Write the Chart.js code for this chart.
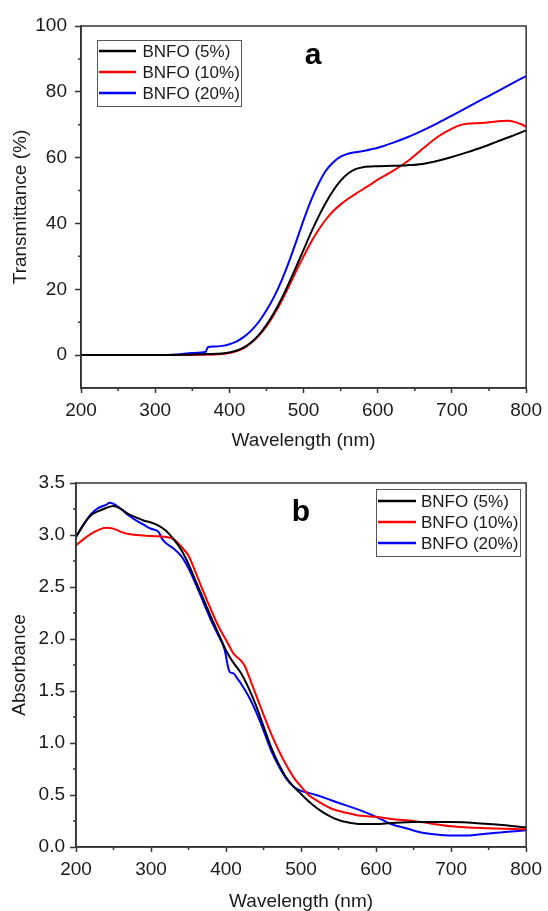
<!DOCTYPE html>
<html>
<head>
<meta charset="utf-8">
<script src="https://cdn.jsdelivr.net/npm/chart.js@4.4.1/dist/chart.umd.min.js"></script>
<style>
  body { margin: 0; background: #fff; }
  .panel { position: absolute; left: 0; }
</style>
</head>
<body>
<div class="panel" style="top:0"><canvas id="chartA" width="548" height="455"></canvas></div>
<div class="panel" style="top:455px"><canvas id="chartB" width="548" height="456"></canvas></div>
<script>
// ---- panel a : transmittance ----
const labels = ['BNFO (5%)', 'BNFO (10%)', 'BNFO (20%)'];
const colors = ['#000000', '#ff0000', '#0000ff'];

const wlA5 = [200, 300, 340, 370, 390, 400, 410, 420, 430, 440, 450, 460, 470, 480, 490, 500, 510, 520, 530, 540, 550, 560, 570, 580, 600, 620, 640, 660, 680, 700, 720, 740, 760, 780, 800];
const tA5 = [0, 0, 0.1, 0.3, 0.5, 0.8, 1.4, 2.4, 4, 6.2, 9.2, 12.8, 17, 21.8, 26.8, 32, 37.2, 42, 46.3, 50, 53, 55.2, 56.5, 57.1, 57.4, 57.5, 57.7, 58.1, 59, 60.2, 61.6, 63.1, 64.8, 66.5, 68.3];

const wlA10 = [200, 300, 360, 390, 400, 410, 420, 430, 440, 450, 460, 470, 480, 490, 500, 510, 520, 530, 540, 550, 560, 570, 580, 590, 600, 620, 640, 660, 680, 700, 710, 720, 740, 760, 775, 785, 795, 800];
const tA10 = [0, 0, 0.1, 0.3, 0.6, 1.2, 2.2, 3.8, 6, 8.8, 12.3, 16.3, 20.8, 25.5, 30, 34.3, 38, 41.2, 43.8, 45.8, 47.5, 49, 50.4, 51.8, 53.3, 55.9, 58.9, 62.6, 66.2, 68.8, 69.8, 70.3, 70.5, 71, 71.2, 70.8, 70, 69.3];

const wlA20 = [200, 300, 330, 350, 368, 371, 380, 390, 400, 410, 420, 430, 440, 450, 460, 470, 480, 490, 500, 510, 520, 530, 540, 550, 560, 580, 600, 620, 640, 660, 680, 700, 720, 740, 760, 780, 800];
const tA20 = [0, 0, 0.2, 0.6, 1.0, 2.4, 2.6, 2.8, 3.3, 4.2, 5.6, 7.6, 10.2, 13.6, 17.6, 22.5, 28.2, 34.5, 41, 47, 52, 56, 58.6, 60.3, 61.2, 62, 63, 64.5, 66.2, 68.2, 70.4, 72.8, 75.2, 77.6, 80, 82.4, 84.8];

const xTicks = [200, 300, 400, 500, 600, 700, 800];
const xMinor = [250, 350, 450, 550, 650, 750];
const yTicksA = [0, 20, 40, 60, 80, 100];
const yMinorA = [10, 30, 50, 70, 90];

// ---- panel b : absorbance ----
const wlB5 = [200, 210, 220, 230, 240, 250, 260, 270, 280, 290, 300, 310, 320, 330, 340, 350, 360, 370, 380, 390, 400, 410, 420, 430, 440, 450, 460, 470, 480, 490, 500, 510, 520, 530, 540, 550, 560, 580, 600, 620, 650, 700, 750, 800];
const aB5 = [2.98, 3.1, 3.19, 3.23, 3.26, 3.28, 3.25, 3.2, 3.17, 3.14, 3.12, 3.09, 3.04, 2.96, 2.86, 2.72, 2.55, 2.38, 2.21, 2.05, 1.89, 1.77, 1.67, 1.53, 1.36, 1.16, 0.96, 0.8, 0.67, 0.58, 0.51, 0.44, 0.38, 0.33, 0.29, 0.26, 0.24, 0.22, 0.22, 0.23, 0.24, 0.24, 0.22, 0.19];

const wlB10 = [200, 210, 220, 230, 240, 250, 260, 270, 280, 300, 320, 330, 340, 350, 360, 370, 380, 390, 400, 410, 420, 425, 430, 440, 450, 460, 470, 480, 490, 500, 510, 520, 540, 560, 580, 600, 620, 650, 700, 750, 800];
const aB10 = [2.9, 2.96, 3.01, 3.05, 3.07, 3.06, 3.03, 3.01, 3.0, 2.99, 2.98, 2.96, 2.89, 2.8, 2.63, 2.45, 2.28, 2.12, 1.99, 1.86, 1.79, 1.74, 1.65, 1.46, 1.27, 1.09, 0.93, 0.79, 0.67, 0.58, 0.5, 0.45, 0.37, 0.33, 0.3, 0.29, 0.27, 0.25, 0.2, 0.18, 0.17];

const wlB20 = [200, 210, 220, 230, 240, 245, 250, 260, 270, 280, 290, 300, 310, 315, 320, 330, 340, 350, 360, 370, 380, 390, 398, 403, 405, 410, 415, 420, 430, 440, 450, 460, 470, 480, 490, 500, 510, 520, 540, 560, 580, 600, 620, 640, 660, 680, 700, 720, 750, 780, 800];
const aB20 = [2.98, 3.1, 3.2, 3.26, 3.29, 3.31, 3.3, 3.25, 3.19, 3.14, 3.1, 3.06, 3.03, 2.96, 2.92, 2.87, 2.8, 2.68, 2.52, 2.35, 2.18, 2.03, 1.9, 1.72, 1.68, 1.67, 1.62, 1.57, 1.45, 1.3, 1.12, 0.93, 0.78, 0.66, 0.58, 0.54, 0.52, 0.5, 0.45, 0.4, 0.35, 0.29, 0.22, 0.18, 0.14, 0.12, 0.11, 0.11, 0.13, 0.15, 0.16];

const yTicksB = [0, 0.5, 1.0, 1.5, 2.0, 2.5, 3.0, 3.5];
const yMinorB = [0.25, 0.75, 1.25, 1.75, 2.25, 2.75, 3.25];

const FONT = 'Arial, "Liberation Sans", sans-serif';
const INK = '#1a1a1a';
const FRAME = '#333333';

function pts(xs, ys) {
    return xs.map((x, i) => ({x: x, y: ys[i]}));
}

function makeDatasets(series) {
    return series.map((s, i) => ({
        label: labels[i],
        data: pts(s[0], s[1]),
        borderColor: colors[i],
        backgroundColor: colors[i],
        borderWidth: 2,
        pointRadius: 0,
        fill: false,
        cubicInterpolationMode: 'monotone'
    }));
}

// minor ticks + top/right frame
const frameTicks = {
    id: 'frameTicks',
    afterDraw(chart, args, opts) {
        const {ctx, chartArea: a} = chart;
        const x = chart.scales.x, y = chart.scales.y;
        ctx.save();
        ctx.strokeStyle = FRAME;
        ctx.lineWidth = 1.5;
        ctx.beginPath();
        opts.x.forEach(v => {
            const px = x.getPixelForValue(v);
            ctx.moveTo(px, a.bottom);
            ctx.lineTo(px, a.bottom + 3);
        });
        opts.y.forEach(v => {
            const py = y.getPixelForValue(v);
            ctx.moveTo(a.left, py);
            ctx.lineTo(a.left - 3, py);
        });
        ctx.stroke();
        ctx.strokeRect(a.left, a.top, a.right - a.left, a.bottom - a.top);
        ctx.restore();
    }
};

// legend box inside the plot + panel letter
const boxLegend = {
    id: 'boxLegend',
    afterDraw(chart, args, o) {
        const ctx = chart.ctx;
        ctx.save();
        ctx.strokeStyle = '#555';
        ctx.lineWidth = 1;
        ctx.strokeRect(o.x + 0.5, o.y + 0.5, o.w, o.h);
        ctx.font = '17px ' + FONT;
        ctx.textBaseline = 'middle';
        ctx.textAlign = 'left';
        chart.data.datasets.forEach((ds, i) => {
            const yy = o.y + o.first + i * o.gap;
            ctx.strokeStyle = ds.borderColor;
            ctx.lineWidth = 2.5;
            ctx.beginPath();
            ctx.moveTo(o.x + 2, yy);
            ctx.lineTo(o.x + 2 + o.lineLen, yy);
            ctx.stroke();
            ctx.fillStyle = INK;
            ctx.fillText(ds.label, o.x + o.textX, yy + 1);
        });
        ctx.font = 'bold 30px ' + FONT;
        ctx.textAlign = 'center';
        ctx.fillStyle = '#000';
        ctx.fillText(o.letter, o.lx, o.ly);
        ctx.restore();
    }
};

function makeChart(id, datasets, cfg) {
    const ctx = document.getElementById(id).getContext('2d');
    return new Chart(ctx, {
        type: 'line',
        data: {datasets: datasets},
        plugins: [frameTicks, boxLegend],
        options: {
            responsive: false,
            animation: false,
            devicePixelRatio: 1,
            layout: {padding: {top: cfg.top, right: 20, left: 0, bottom: 0}},
            plugins: {
                legend: {display: false},
                tooltip: {enabled: false},
                frameTicks: {x: xMinor, y: cfg.yMinor},
                boxLegend: cfg.legend
            },
            scales: {
                x: {
                    type: 'linear',
                    min: 200,
                    max: 800,
                    afterBuildTicks: s => { s.ticks = xTicks.map(v => ({value: v})); },
                    afterFit: s => { s.height = cfg.xHeight; },
                    grid: {drawOnChartArea: false, drawTicks: true, tickLength: 5, tickWidth: 1.5, tickColor: FRAME},
                    border: {display: true, color: FRAME, width: 1.5},
                    ticks: {color: INK, font: {family: FONT, size: 19}, padding: 6, maxRotation: 0},
                    title: {display: true, text: 'Wavelength (nm)', color: INK,
                        font: {family: FONT, size: 19, lineHeight: 1}, padding: {top: 0, bottom: cfg.xTitlePad}}
                },
                y: {
                    type: 'linear',
                    min: cfg.yMin,
                    max: cfg.yMax,
                    afterBuildTicks: s => { s.ticks = cfg.yTicks.map(v => ({value: v})); },
                    afterFit: s => { s.width = cfg.yWidth; },
                    grid: {drawOnChartArea: false, drawTicks: true, tickLength: 6, tickWidth: 1.5, tickColor: FRAME},
                    border: {display: true, color: FRAME, width: 1.5},
                    ticks: {color: INK, font: {family: FONT, size: 19}, padding: cfg.yPad, callback: cfg.fmt},
                    title: {display: true, text: cfg.yTitle, color: INK,
                        font: {family: FONT, size: 19, lineHeight: 1}, padding: {top: cfg.yTitlePad, bottom: 0}}
                }
            }
        }
    });
}

makeChart('chartA', makeDatasets([[wlA5, tA5], [wlA10, tA10], [wlA20, tA20]]), {
    top: 26, xHeight: 67, yWidth: 81, yMin: -10, yMax: 100, yTicks: yTicksA, yMinor: yMinorA,
    yPad: 8, xTitlePad: 4.5, yTitlePad: 11.5, yTitle: 'Transmittance (%)',
    fmt: v => String(v),
    legend: {x: 97, y: 40, w: 144, h: 66, first: 11, gap: 21, lineLen: 37, textX: 45.5, letter: 'a', lx: 313, ly: 56}
});

makeChart('chartB', makeDatasets([[wlB5, aB5], [wlB10, aB10], [wlB20, aB20]]), {
    top: 28, xHeight: 64, yWidth: 76, yMin: 0, yMax: 3.5, yTicks: yTicksB, yMinor: yMinorB,
    yPad: 5, xTitlePad: 0, yTitlePad: 10.5, yTitle: 'Absorbance',
    fmt: v => v.toFixed(1),
    legend: {x: 376, y: 34, w: 144, h: 67, first: 12, gap: 21, lineLen: 38, textX: 45, letter: 'b', lx: 301, ly: 58}
});
</script>
</body>
</html>
